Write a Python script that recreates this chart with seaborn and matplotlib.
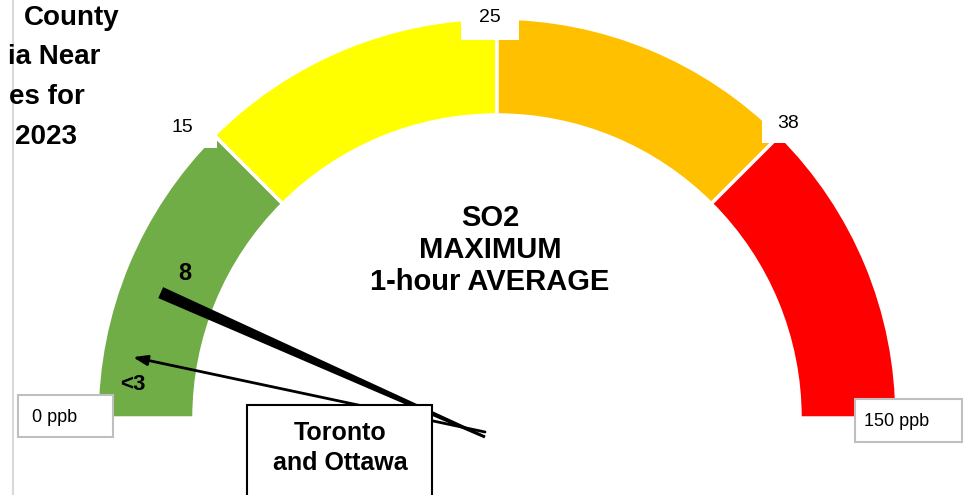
import numpy as np
import matplotlib
matplotlib.use("Agg")
import matplotlib.pyplot as plt
from matplotlib.patches import Wedge, Polygon, Rectangle
import seaborn as sns

# gauge bands (ppb) and the colours used for them
band_edges = [0, 15, 25, 38, 150]
band_colors = ["#70AD47", "#FFFF00", "#FFC000", "#FF0000"]
edge_labels = ["0 ppb", "15", "25", "38", "150 ppb"]

# readings shown by the needles
needle_value = 8          # thick needle
needle_label = "8"
arrow_value = 4           # thin arrow, as drawn
arrow_label = "<3"

# title is cut off at the left edge in the source; only the visible part
title_lines = ["County", "ia Near", "es for", "2023"]
center_text = "SO2\nMAXIMUM\n1-hour AVERAGE"
box_text = "Toronto\nand Ottawa"

sns.set_theme(style="white")
plt.rcParams["font.family"] = ["Liberation Sans", "DejaVu Sans"]
plt.rcParams["text.color"] = "black"

W, H = 969, 495
CX, CY = 497, H - 418
R_OUT, R_IN = 400, 303
band_angles = [180, 135, 90, 45, 0]


def to_angle(v):
    return np.interp(v, band_edges, band_angles)


def py(y):
    # pixel row -> data y
    return H - y


fig = plt.figure(figsize=(W / 100, H / 100), dpi=100)
ax = fig.add_axes([0, 0, 1, 1])
ax.set_xlim(0, W)
ax.set_ylim(0, H)
ax.axis("off")

# left border line
ax.plot([13, 13], [0, H], color="#D9D9D9", lw=1.5, zorder=0)

# gauge bands
for i, col in enumerate(band_colors):
    a1 = to_angle(band_edges[i + 1])
    a0 = to_angle(band_edges[i])
    ax.add_patch(Wedge((CX, CY), R_OUT, a1, a0, width=R_OUT - R_IN,
                       facecolor=col, edgecolor="white", lw=2.5, zorder=1))

# boundary label boxes
lab_boxes = {1: (150, 108, 67, 40), 2: (461, -2, 58, 42), 3: (762, 103, 60, 40)}
lab_pos = {1: (182, 128), 2: (490, 17), 3: (788, 123)}
for i, (x0, y0, w, h) in lab_boxes.items():
    ax.add_patch(Rectangle((x0, py(y0 + h)), w, h, facecolor="white",
                           edgecolor="none", zorder=3))
    ax.text(lab_pos[i][0], py(lab_pos[i][1]), edge_labels[i], fontsize=14,
            ha="center", va="center", zorder=4)

# end boxes
ax.add_patch(Rectangle((18, py(437)), 95, 42, facecolor="white",
                       edgecolor="#BFBFBF", lw=1.5, zorder=3))
ax.text(55, py(417), edge_labels[0], fontsize=13, ha="center", va="center", zorder=4)
ax.add_patch(Rectangle((855, py(442)), 107, 43, facecolor="white",
                       edgecolor="#BFBFBF", lw=1.5, zorder=3))
ax.text(897, py(421), edge_labels[-1], fontsize=13, ha="center", va="center", zorder=4)

# thick needle (tapered)
px, pyv = 485, py(437)
th = np.radians(to_angle(needle_value))
L = 355
d = np.array([np.cos(th), np.sin(th)])
n = np.array([-d[1], d[0]])
base = np.array([px, pyv])
tip = base + L * d
ax.add_patch(Polygon([base + 1.5 * n, tip + 6 * n, tip - 6 * n, base - 1.5 * n],
                     closed=True, facecolor="black", edgecolor="none", zorder=5))
ax.text(185, py(273), needle_label, fontsize=17, fontweight="bold",
        ha="center", va="center", zorder=6)

# thin arrow
ta = np.radians(to_angle(arrow_value))
start = np.array([485, py(432)])
end = start + 360 * np.array([np.cos(ta), np.sin(ta)])
ax.annotate("", xy=end, xytext=start,
            arrowprops=dict(arrowstyle="-|>,head_length=0.7,head_width=0.25",
                            lw=2, color="black", shrinkA=0, shrinkB=0),
            zorder=5)
ax.text(133, py(385), arrow_label, fontsize=16, fontweight="bold",
        ha="center", va="center", zorder=6)

# label box over the needles
ax.add_patch(Rectangle((247, py(500)), 185, 95, facecolor="white",
                       edgecolor="black", lw=1.5, zorder=7))
ax.text(340, py(448), box_text, fontsize=18, fontweight="bold",
        ha="center", va="center", linespacing=1.3, zorder=8)

# centre text
ax.text(490, py(250), center_text, fontsize=21, fontweight="bold",
        ha="center", va="center", linespacing=1.2, zorder=4)

# title
for line, xr, yc in zip(title_lines, [120, 100, 85, 77], [18, 57, 97, 137]):
    ax.text(xr, py(yc), line, fontsize=20, fontweight="bold",
            ha="right", va="center", zorder=4)

fig.savefig("out.png", dpi=100)
